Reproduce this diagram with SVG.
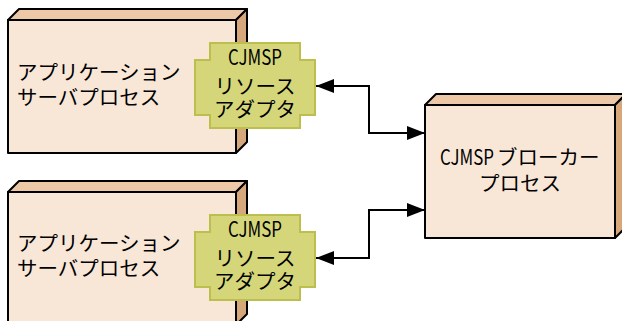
<svg xmlns="http://www.w3.org/2000/svg" width="622" height="321" viewBox="0 0 622 321">
<style>
.front{fill:#F8E6D7;stroke:#000;stroke-width:2;stroke-linejoin:round}
.top{fill:#EDC8A6;stroke:#000;stroke-width:2;stroke-linejoin:round}
.side{fill:#D7A77C;stroke:#000;stroke-width:2;stroke-linejoin:round}
.adapter{fill:#D5D67A;stroke:#BCBF4E;stroke-width:2}
text{font-family:"Noto Sans CJK JP","Noto Sans",sans-serif;font-size:20.5px;fill:#000}
.mid{text-anchor:middle}
.lat{font-size:21px}
.conn{fill:none;stroke:#000;stroke-width:2}
</style>
<defs>
<marker id="arr" viewBox="0 0 18 14" refX="18" refY="7" markerWidth="18" markerHeight="14" markerUnits="userSpaceOnUse" orient="auto-start-reverse">
<path d="M0,0 L18,7 L0,14 Z" fill="#000"/>
</marker>
</defs>
<g id="app1">
<polygon class="top" points="8,20 19,9 247,9 236,20"/>
<polygon class="side" points="236,20 247,9 247,142 236,153"/>
<rect class="front" x="8" y="20" width="228" height="133"/>
<text x="17" y="80">アプリケーション</text>
<text x="17" y="105">サーバプロセス</text>
</g>
<g id="adapter1">
<path class="adapter" d="M210,43 H300 V60 H315 V115 H300 V128 H210 V115 H195 V60 H210 Z"/>
<text class="mid lat" x="255" y="65" textLength="54" lengthAdjust="spacingAndGlyphs">CJMSP</text>
<text class="mid" x="255" y="94">リソース</text>
<text class="mid" x="255" y="117">アダプタ</text>
</g>
<g id="app2">
<polygon class="top" points="8,192 19,181 247,181 236,192"/>
<polygon class="side" points="236,192 247,181 247,314 236,325"/>
<rect class="front" x="8" y="192" width="228" height="133"/>
<text x="17" y="251">アプリケーション</text>
<text x="17" y="276">サーバプロセス</text>
</g>
<g id="adapter2">
<path class="adapter" d="M210,215 H300 V232 H315 V287 H300 V300 H210 V287 H195 V232 H210 Z"/>
<text class="mid lat" x="255" y="237" textLength="54" lengthAdjust="spacingAndGlyphs">CJMSP</text>
<text class="mid" x="255" y="266">リソース</text>
<text class="mid" x="255" y="289">アダプタ</text>
</g>
<g id="broker">
<polygon class="top" points="425,105 436,94 626,94 615,105"/>
<polygon class="side" points="615,105 626,94 626,227 615,238"/>
<rect class="front" x="425" y="105" width="190" height="133"/>
<text x="440" y="165"><tspan class="lat" textLength="54" lengthAdjust="spacingAndGlyphs">CJMSP</tspan><tspan x="497">ブローカー</tspan></text>
<text class="mid" x="520" y="191">プロセス</text>
</g>
<g id="connectors">
<path class="conn" d="M316,86 H369 V133 H425" marker-start="url(#arr)" marker-end="url(#arr)"/>
<path class="conn" d="M316,258 H369 V210 H425" marker-start="url(#arr)" marker-end="url(#arr)"/>
</g>
</svg>
